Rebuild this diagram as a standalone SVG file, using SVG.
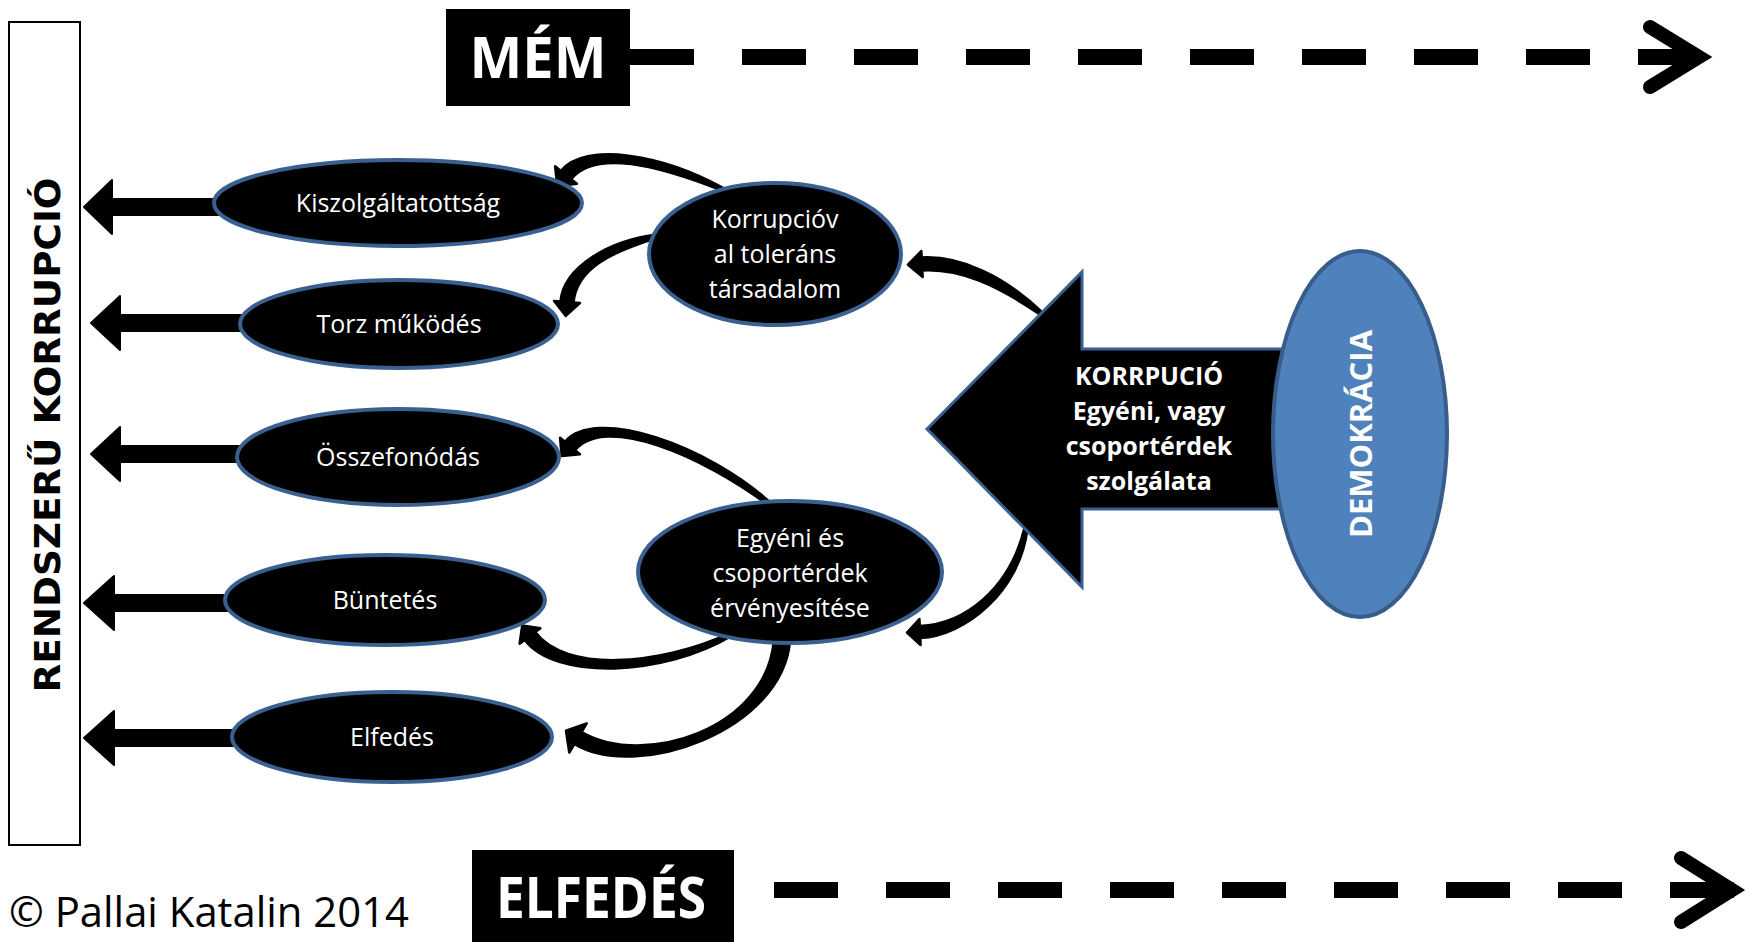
<svg xmlns="http://www.w3.org/2000/svg" width="1748" height="942" viewBox="0 0 1748 942">
<style>
.ell{fill:#000;stroke:#3A6090;stroke-width:4}
.t{font-family:"Open Sans","Liberation Sans",sans-serif;font-size:25px;fill:#fff;text-anchor:middle}
.b{font-weight:bold}
.conn{fill:#000;stroke:#000;stroke-width:2.5;stroke-linejoin:round}
.la{fill:#000;stroke:#000;stroke-width:2;stroke-linejoin:round}
.dash{stroke:#000;stroke-width:16;stroke-dasharray:64 48;fill:none}
.chev{fill:none;stroke:#000;stroke-width:14;stroke-linecap:round;stroke-linejoin:miter}
.lbl{font-family:"Open Sans","Liberation Sans",sans-serif;font-weight:bold;fill:#fff;text-anchor:middle}
</style>
<rect width="1748" height="942" fill="#fff"/>
<g id="connectors">
  <!-- dashed timeline arrows -->
  <line class="dash" x1="630" y1="57" x2="1700" y2="57"/>
  <polyline class="chev" points="1650,27 1699,57 1650,87"/>
  <line class="dash" x1="774" y1="890" x2="1735" y2="890"/>
  <polyline class="chev" points="1681,858 1732,890 1681,922"/>
  <!-- left arrows -->
  <polygon class="la" points="84,207 112,180 112,199 300,199 300,215 112,215 112,234"/>
  <polygon class="la" points="91,323 120,296 120,315 300,315 300,331 120,331 120,350"/>
  <polygon class="la" points="91,454 120,427 120,446 300,446 300,462 120,462 120,481"/>
  <polygon class="la" points="84,603 114,576 114,595 300,595 300,611 114,611 114,630"/>
  <polygon class="la" points="84,738 114,711 114,730 300,730 300,746 114,746 114,765"/>
  <!-- curved arrows -->
  <path class="conn" d="M722.6,187.6 C662.5,154.6 584.9,140.9 560.9,170.9 L555.1,166.3 L557.3,185.9 L576.9,183.8 L571.1,179.1 C595.1,149.1 657.5,165.4 721.4,190.4 Z"/>
  <path class="conn" d="M657.7,234.5 C608.8,240.1 563.5,267.4 560.5,301.4 L554.1,300.9 L565.8,315.9 L579.9,303.1 L573.5,302.6 C576.5,268.6 611.2,251.9 658.3,237.5 Z"/>
  <path class="conn" d="M1042.9,312.8 C1003.8,275.3 959.7,255.5 921.7,257.5 L921.3,251 L908,264.7 L922.7,277 L922.3,270.5 C960.3,268.5 996.2,284.7 1041.1,315.2 Z"/>
  <path class="conn" d="M772.9,504.8 C708.7,445.3 595,405.8 565,441.8 L560,437.7 L561.7,456 L580,454.3 L575,450.2 C605,414.2 701.3,454.7 771.1,507.2 Z"/>
  <path class="conn" d="M731.3,632.7 C657.3,666.6 565.2,672.1 535.2,632.1 L540.4,628.2 L522.2,625.6 L519.6,643.8 L524.8,639.9 C554.8,679.9 662.7,677.4 732.7,635.3 Z"/>
  <path class="conn" d="M774,639.4 C767,729.4 644.1,768.1 581.6,732 L586.7,723.4 L566,730.8 L569.3,752.6 L574.4,744 C635.9,781.9 783,730.6 790,640.6 Z"/>
  <path class="conn" d="M1024.5,527.7 C1009.6,589 964.7,624 919.7,626 L919.4,619 L907,632.6 L920.6,645 L920.3,638 C965.3,636 1020.4,591 1027.5,528.3 Z"/>
</g>
<g id="bar">
  <rect x="9" y="22" width="71" height="823" fill="#fff" stroke="#000" stroke-width="2"/>
  <text transform="translate(60,435) rotate(-90)" font-family="'DejaVu Sans',sans-serif" font-weight="bold" font-size="36" fill="#000" text-anchor="middle" textLength="515" lengthAdjust="spacingAndGlyphs">RENDSZERŰ KORRUPCIÓ</text>
</g>
<g id="mem">
  <rect x="446" y="9" width="184" height="97" fill="#000"/>
  <text class="lbl" x="538" y="78" font-size="57" textLength="137" lengthAdjust="spacingAndGlyphs">MÉM</text>
</g>
<g id="elfedes-label">
  <rect x="472" y="850" width="262" height="92" fill="#000"/>
  <text class="lbl" x="601" y="918" font-size="57" textLength="210" lengthAdjust="spacingAndGlyphs">ELFEDÉS</text>
</g>
<g id="copyright">
  <text x="9" y="927" font-family="'Open Sans','Liberation Sans',sans-serif" font-size="42" fill="#000" textLength="400" lengthAdjust="spacingAndGlyphs">© Pallai Katalin 2014</text>
</g>
<g id="kiszolgaltatottsag">
  <ellipse class="ell" cx="398" cy="203" rx="184" ry="43"/>
  <text class="t" x="398" y="212">Kiszolgáltatottság</text>
</g>
<g id="torz">
  <ellipse class="ell" cx="399" cy="324" rx="159" ry="44"/>
  <text class="t" x="399" y="333">Torz működés</text>
</g>
<g id="osszefonodas">
  <ellipse class="ell" cx="398" cy="457" rx="161" ry="48"/>
  <text class="t" x="398" y="466">Összefonódás</text>
</g>
<g id="buntetes">
  <ellipse class="ell" cx="385" cy="600" rx="160" ry="45"/>
  <text class="t" x="385" y="609">Büntetés</text>
</g>
<g id="elfedes">
  <ellipse class="ell" cx="392" cy="737" rx="160" ry="45"/>
  <text class="t" x="392" y="746">Elfedés</text>
</g>
<g id="korrupciovaltolerans">
  <ellipse class="ell" cx="775" cy="254" rx="126" ry="71"/>
  <text class="t" x="775" y="228">Korrupcióv</text>
  <text class="t" x="775" y="263">al toleráns</text>
  <text class="t" x="775" y="298">társadalom</text>
</g>
<g id="egyeni">
  <ellipse class="ell" cx="790" cy="572" rx="152" ry="71"/>
  <text class="t" x="790" y="547">Egyéni és</text>
  <text class="t" x="790" y="582">csoportérdek</text>
  <text class="t" x="790" y="617">érvényesítése</text>
</g>
<g id="korrupcio">
  <polygon points="927,429 1082,272 1082,349 1295,349 1295,509 1082,509 1082,587" fill="#000" stroke="#3A6090" stroke-width="3"/>
  <text class="t b" x="1149" y="385">KORRPUCIÓ</text>
  <text class="t b" x="1149" y="420">Egyéni, vagy</text>
  <text class="t b" x="1149" y="455">csoportérdek</text>
  <text class="t b" x="1149" y="490">szolgálata</text>
</g>
<g id="demokracia">
  <ellipse cx="1360" cy="434" rx="87" ry="183" fill="#4F81BD" stroke="#385D8A" stroke-width="4"/>
  <text transform="translate(1372,434) rotate(-90)" class="lbl" font-size="31">DEMOKRÁCIA</text>
</g>
</svg>
